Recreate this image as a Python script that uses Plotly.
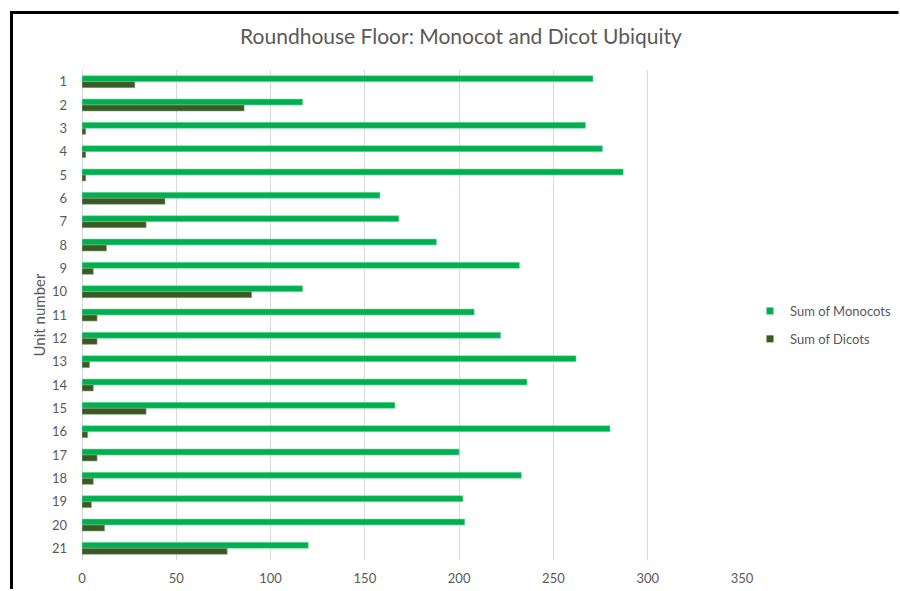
import plotly.graph_objects as go

# Unit numbers (top to bottom) and summed counts per unit
units = [str(i) for i in range(1, 22)]
monocots = [271, 117, 267, 276, 287, 158, 168, 188, 232, 117, 208,
            222, 262, 236, 166, 280, 200, 233, 202, 203, 120]
dicots = [28, 86, 2, 2, 2, 44, 34, 13, 6, 90, 8,
          8, 4, 6, 34, 3, 8, 6, 5, 12, 77]
x_ticks = [0, 50, 100, 150, 200, 250, 300, 350]

GREY = "#595959"
FONT = "Lato"
MONO = "#00B050"
DICO = "#3A5A24"

fig = go.Figure()
fig.add_trace(go.Bar(
    y=units, x=monocots, orientation="h", name="Sum of Monocots",
    marker=dict(color=MONO, line=dict(color="#7fd8a7", width=0.6)),
    showlegend=False,
))
fig.add_trace(go.Bar(
    y=units, x=dicots, orientation="h", name="Sum of Dicots",
    marker=dict(color=DICO, line=dict(color="#8fa583", width=0.6)),
    showlegend=False,
))
# small square legend keys
for name, col in [("Sum of Monocots", MONO), ("Sum of Dicots", DICO)]:
    fig.add_trace(go.Scatter(
        x=[None], y=[None], mode="markers", name=name, legendgroup=name,
        marker=dict(symbol="square", size=7, color=col),
    ))

W, H = 900, 591
L, R, T, B = 82, 158, 70, 31
pw, ph = W - L - R, H - T - B

def px_x(x):
    return (x - L) / pw

def px_y(y):
    return (H - B - y) / ph

frame = dict(type="line", xref="paper", yref="paper",
             line=dict(color="black", width=3), layer="above")

fig.update_layout(
    width=W, height=H,
    margin=dict(l=L, r=R, t=T, b=B, autoexpand=False),
    paper_bgcolor="white", plot_bgcolor="white",
    barmode="group", bargap=0.486, bargroupgap=0,
    font=dict(family=FONT, color=GREY, size=12),
    title=dict(text="Roundhouse Floor: Monocot and Dicot Ubiquity",
               x=(461 - L) / pw, xref="paper", xanchor="center",
               y=1 - 37 / H, yanchor="middle",
               font=dict(family=FONT, size=21, color=GREY)),
    xaxis=dict(range=[0, 350], tickvals=x_ticks, showgrid=True,
               gridcolor="#d9d9d9", gridwidth=1, zeroline=True,
               zerolinecolor="#d9d9d9", zerolinewidth=1, showline=False,
               ticks="", ticklabelstandoff=9,
               tickfont=dict(family=FONT, size=13, color=GREY)),
    yaxis=dict(autorange="reversed", type="category", showgrid=False,
               showline=False, ticks="", ticklabelstandoff=14,
               tickfont=dict(family=FONT, size=13, color=GREY),
               title=dict(text="Unit number", standoff=2,
                          font=dict(family=FONT, size=15, color=GREY))),
    legend=dict(x=px_x(750), xanchor="left", y=px_y(325), yanchor="middle",
                font=dict(family=FONT, size=13, color=GREY),
                tracegroupgap=8, itemwidth=30, bgcolor="rgba(0,0,0,0)"),
    shapes=[
        dict(frame, x0=px_x(11.5), x1=px_x(11.5), y0=px_y(589), y1=px_y(11.5)),
        dict(frame, x0=px_x(10), x1=px_x(898.5), y0=px_y(12.5), y1=px_y(12.5)),
    ],
)

fig.write_html("out.html")
